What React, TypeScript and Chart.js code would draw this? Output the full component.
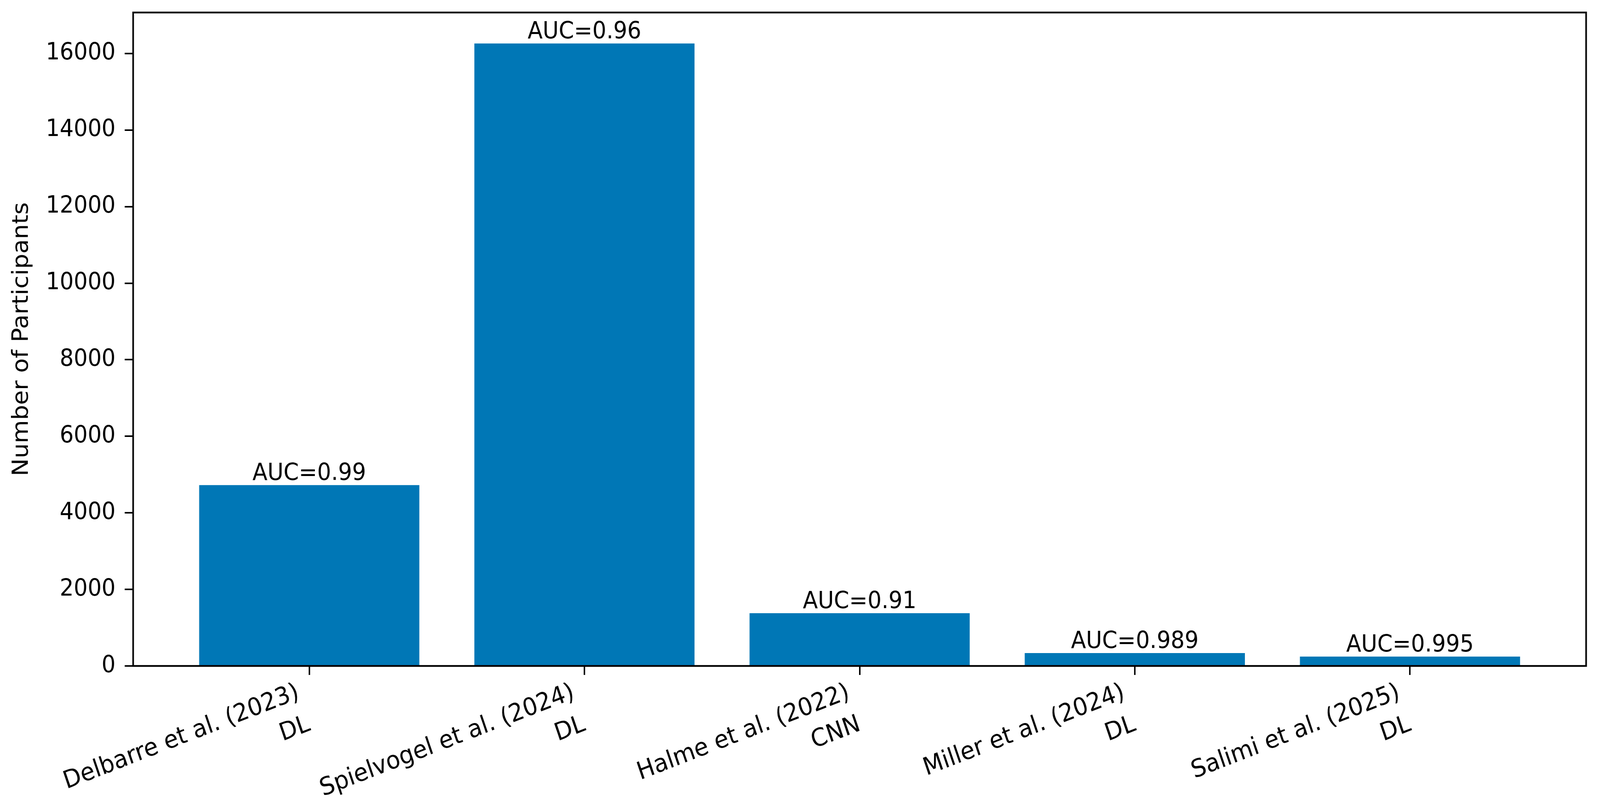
import React, { useEffect, useRef } from "react";
import { Chart, registerables } from "chart.js";

Chart.register(...registerables);

const studies = [
  "Delbarre et al. (2023)",
  "Spielvogel et al. (2024)",
  "Halme et al. (2022)",
  "Miller et al. (2024)",
  "Salimi et al. (2025)",
];
const methods = ["DL", "DL", "CNN", "DL", "DL"];
const participants = [4725, 16260, 1377, 337, 245];
const aucLabels = ["AUC=0.99", "AUC=0.96", "AUC=0.91", "AUC=0.989", "AUC=0.995"];
const yTickValues = [0, 2000, 4000, 6000, 8000, 10000, 12000, 14000, 16000];
const yAxisTitle = "Number of Participants";

const W = 4375;
const H = 2070;
const FONT = 60;
const XFONT = 63;
const TITLE_FONT = 61;
const BAR_COLOR = "#0077b6";
const EN_SPACE = "\u2002";

export default function App() {
  const ref = useRef<HTMLCanvasElement | null>(null);
  const cssW = typeof window !== "undefined" ? window.innerWidth : W;
  const cssH = typeof window !== "undefined" ? window.innerHeight : H;

  useEffect(() => {
    const canvas = ref.current;
    if (!canvas) return;
    Chart.defaults.font.family = "'DejaVu Sans', sans-serif";
    Chart.defaults.font.size = FONT;
    Chart.defaults.color = "#000";

    const barLabels = {
      id: "barLabels",
      afterDatasetsDraw(chart: any) {
        const ctx = chart.ctx;
        const meta = chart.getDatasetMeta(0);
        ctx.save();
        ctx.font = `${FONT}px 'DejaVu Sans', sans-serif`;
        ctx.fillStyle = "#000";
        ctx.textAlign = "center";
        ctx.textBaseline = "alphabetic";
        meta.data.forEach((bar: any, i: number) => {
          ctx.fillText(aucLabels[i], bar.x, bar.y - 0.22 * FONT);
        });
        ctx.restore();
      },
    };

    const frame = {
      id: "frame",
      afterDatasetsDraw(chart: any) {
        const { ctx, chartArea } = chart;
        ctx.save();
        ctx.strokeStyle = "#000";
        ctx.lineWidth = 4.5;
        ctx.strokeRect(
          chartArea.left,
          chartArea.top,
          chartArea.right - chartArea.left,
          chartArea.bottom - chartArea.top
        );
        ctx.restore();
      },
    };

    const chart = new Chart(canvas, {
      type: "bar",
      data: {
        datasets: [
          {
            data: participants.map((v, i) => ({ x: i, y: v })),
            backgroundColor: BAR_COLOR,
            borderWidth: 0,
            barPercentage: 0.8,
            categoryPercentage: 1.0,
          },
        ],
      },
      options: {
        responsive: false,
        animation: false,
        devicePixelRatio: 1,
        layout: { padding: { left: 0, top: 32, right: 38, bottom: 0 } },
        plugins: {
          legend: { display: false },
          tooltip: { enabled: false },
          title: { display: false },
        },
        scales: {
          x: {
            type: "linear",
            min: -0.64,
            max: 4.64,
            offset: false,
            grid: {
              offset: false,
              display: true,
              drawOnChartArea: false,
              drawTicks: true,
              tickLength: 23,
              tickWidth: 4,
              tickColor: "#000",
              lineWidth: 4,
            },
            border: { display: false },
            afterBuildTicks: (scale: any) => {
              scale.ticks = studies.map((_, i) => ({ value: i }));
            },
            afterFit: (scale: any) => {
              scale.height = H - 1704;
              scale.paddingLeft = 0;
              scale.paddingRight = 0;
              scale.paddingTop = 0;
              scale.paddingBottom = 0;
            },
            ticks: {
              autoSkip: false,
              minRotation: 20,
              maxRotation: 20,
              padding: -8,
              color: "#000",
              font: { size: XFONT, lineHeight: 1.38 },
              callback: (value: any) => {
                const i = Math.round(Number(value));
                return [studies[i] + EN_SPACE, methods[i] + EN_SPACE];
              },
            },
          },
          y: {
            type: "linear",
            min: 0,
            max: 17070,
            grid: {
              display: true,
              drawOnChartArea: false,
              drawTicks: true,
              tickLength: 23,
              tickWidth: 4,
              tickColor: "#000",
              lineWidth: 4,
            },
            border: { display: false },
            afterBuildTicks: (scale: any) => {
              scale.ticks = yTickValues.map((v) => ({ value: v }));
            },
            afterFit: (scale: any) => {
              scale.width = 364;
              scale.paddingLeft = 0;
              scale.paddingRight = 0;
              scale.paddingTop = 0;
              scale.paddingBottom = 0;
            },
            ticks: {
              padding: 25,
              color: "#000",
              font: { size: FONT },
              callback: (value: any) => String(value),
            },
            title: {
              display: true,
              text: yAxisTitle,
              color: "#000",
              font: { size: TITLE_FONT },
              padding: { top: 24, bottom: 0 },
            },
          },
        },
      },
      plugins: [barLabels, frame],
    });

    return () => chart.destroy();
  }, []);

  return (
    <div style={{ position: "fixed", left: 0, top: 0, width: cssW, height: cssH, background: "#fff", overflow: "hidden" }}>
      <canvas ref={ref} width={W} height={H} style={{ display: "block", width: cssW, height: cssH }} />
    </div>
  );
}
